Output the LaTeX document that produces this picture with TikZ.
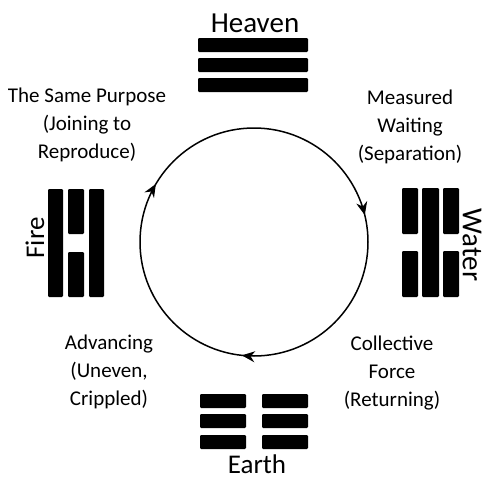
\documentclass[tikz,border=0pt]{standalone}
\usepackage{fontspec}
\setmainfont{Carlito}
\usetikzlibrary{arrows.meta, decorations.markings}
\tikzset{
  element/.style={
    inner sep=0pt, font=\fontsize{29}{32}\selectfont
  },
  meaning/.style={
    align=center, inner sep=0pt, font=\fontsize{21}{28}\selectfont
  },
  bar/.style={fill=black, rounded corners=1.2pt},
  cycle/.style={
    line width=1.5pt,
    decoration={markings,
      mark=at position 0.267 with {\arrow{Stealth[length=13pt,width=11pt]}},
      mark=at position 0.585 with {\arrow{Stealth[length=13pt,width=11pt]}},
      mark=at position 0.962 with {\arrow{Stealth[length=13pt,width=11pt]}}},
    postaction={decorate}
  },
}
\begin{document}
\begin{tikzpicture}[x=1pt, y=-1pt]
  \useasboundingbox (0,0) rectangle (485,479);

  % the cycle
  \draw [cycle] (254,242) circle [radius=114];

  % Heaven
  \node (heaven) [element, anchor=base] at (255,32) {Heaven};
  \foreach \y in {38,58,78}
    \fill [bar] (198,\y) rectangle (308,\y+14);

  % Earth
  \foreach \y in {394,414,435} {
    \fill [bar] (200,\y) rectangle (246,\y+14);
    \fill [bar] (262,\y) rectangle (308,\y+14);
  }
  \node (earth) [element, anchor=base, font=\fontsize{27}{30}\selectfont] at (257,473) {Earth};

  % Fire
  \fill [bar] (48,189) rectangle (63,297);
  \fill [bar] (68,189) rectangle (84,234);
  \fill [bar] (68,252) rectangle (84,297);
  \fill [bar] (89,189) rectangle (104,297);
  \node (fire) [element, rotate=90, font=\fontsize{27}{30}\selectfont] at (35,238) {Fire};

  % Water
  \fill [bar] (402,188) rectangle (418,234);
  \fill [bar] (402,251) rectangle (418,297);
  \fill [bar] (422,188) rectangle (439,297);
  \fill [bar] (443,188) rectangle (459,234);
  \fill [bar] (443,251) rectangle (459,297);
  \node (water) [element, rotate=-90] at (472,245) {Water};

  % meanings
  \node (purpose)  [meaning] at (87,125)  {The Same Purpose\\(Joining to\\Reproduce)};
  \node (waiting)  [meaning] at (410,127) {Measured\\Waiting\\(Separation)};
  \node (advance)  [meaning] at (109,372) {Advancing\\(Uneven,\\Crippled)};
  \node (force)    [meaning] at (392,373) {Collective\\Force\\(Returning)};
\end{tikzpicture}
\end{document}
